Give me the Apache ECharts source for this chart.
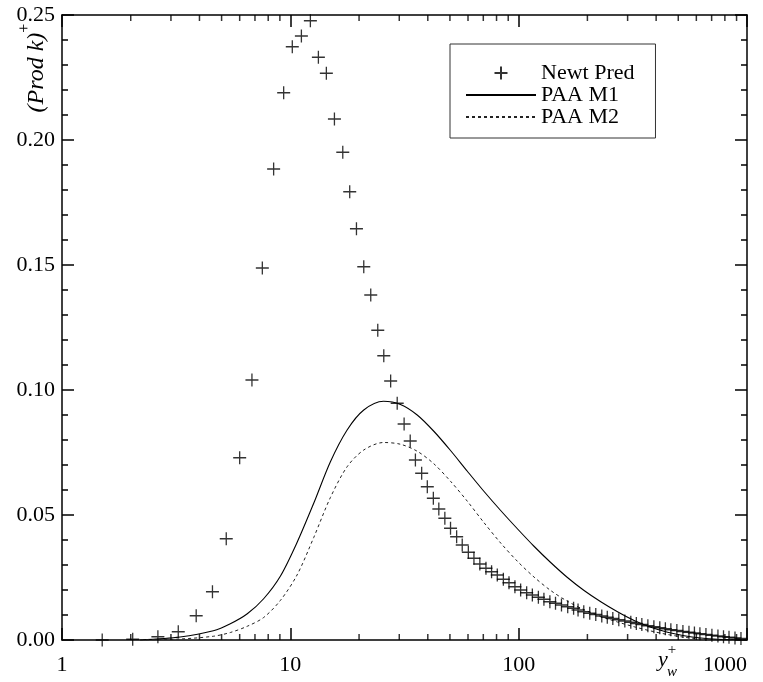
<!DOCTYPE html>
<html><head><meta charset="utf-8">
<script src="https://cdn.jsdelivr.net/npm/echarts/dist/echarts.min.js"></script>
<style>html,body{margin:0;padding:0;background:#fff}#c{width:763px;height:682px}</style>
</head><body><div id="c"></div>
<script>
// ---- data ----
const newtX = [1.50,2.04,2.63,3.23,3.87,4.56,5.24,6.00,6.79,7.54,8.45,9.35,10.2,11.18,12.24,13.27,14.38,15.6,16.97,18.2,19.48,20.97,22.5,24.15,25.66,27.5,29.38,31.5,33.5,35.3,37.6,39.8,42.3,44.7,47.5,50.3,53.5,56.6,60.2,63.7,67.6,71.9,76.1,80.6,85.7,90.7,96.3,102,108.4,114.8,122,129,137,145,154,164,174,182,192.8,204.8,217.6,231.2,244.4,258.4,274.5,291.7,309.8,327.6,346.3,368,391,415,439,464,493,524,557,588.5,622,661,702,746,789,834,886,941];
const newtY = [0.0000,0.0003,0.0013,0.0033,0.0097,0.0193,0.0405,0.0729,0.1040,0.1488,0.1884,0.2189,0.2373,0.2416,0.2477,0.2331,0.2267,0.2084,0.1951,0.1793,0.1645,0.1493,0.1380,0.1239,0.1137,0.1036,0.0947,0.0864,0.0796,0.0720,0.0667,0.0613,0.0567,0.0524,0.0487,0.0447,0.0413,0.0380,0.0351,0.0327,0.0304,0.0287,0.0273,0.0260,0.0243,0.0229,0.0213,0.0200,0.0189,0.0180,0.0171,0.0163,0.0153,0.0147,0.0140,0.0133,0.0127,0.0120,0.0113,0.0107,0.0102,0.0096,0.0091,0.0086,0.0081,0.0076,0.0071,0.0066,0.0062,0.0057,0.0053,0.0049,0.0045,0.0041,0.0038,0.0034,0.0031,0.0028,0.0025,0.0022,0.0019,0.0016,0.0013,0.0011,0.0008,0.0006];

const curveX = [2.20,3.29,4.60,5.46,6.48,7.64,9.04,10.70,12.66,14.98,17.73,20.97,25.58,30.37,35.95,42.5,50.3,59.6,70.4,83.4,98.7,116.7,138.1,163.5,193.4,228.9,270.9,320.4,379.3,448.9,530.9,628.3,743.7,879.7,1000];
const m1Y = [0.0000,0.0012,0.0037,0.0065,0.0105,0.0165,0.0255,0.0390,0.0547,0.0713,0.0840,0.0920,0.0955,0.0942,0.0900,0.0835,0.0758,0.0675,0.0595,0.0518,0.0445,0.0375,0.0310,0.0250,0.0198,0.0153,0.0113,0.0078,0.0051,0.0031,0.0017,0.0008,0.0003,0.0001,0.0000];
const m2Y = [0.0000,0.0004,0.0015,0.0030,0.0055,0.0090,0.0158,0.0260,0.0410,0.0570,0.0693,0.0760,0.0790,0.0783,0.0755,0.0705,0.0635,0.0555,0.0470,0.0388,0.0315,0.0252,0.0198,0.0155,0.0121,0.0094,0.0072,0.0053,0.0036,0.0022,0.0011,0.0004,0.0001,0.0000,0.0000];

const seriesNames = ['Newt Pred', 'PAA M1', 'PAA M2'];
const xMinorTicks = [2,3,4,5,6,7,8,9,20,30,40,50,60,70,80,90,200,300,400,500,600,700,800,900];
const yMin = 0, yMax = 0.25, yStep = 0.05;

// ---- chart ----
const FONT = '"Liberation Serif", "DejaVu Serif", serif';
const AX = {color: '#000', width: 1.5};
const chart = echarts.init(document.getElementById('c'), null, {renderer: 'canvas'});

function xAxisCfg(pos, labels) {
  return {
    type: 'log', logBase: 10, min: 1, max: 1000, position: pos, gridIndex: 0,
    axisLine: {show: true, onZero: false, lineStyle: AX},
    axisTick: {show: true, inside: true, length: 12, lineStyle: AX},
    axisLabel: labels ? {
      show: true, fontFamily: FONT, fontSize: 22, color: '#000', margin: 14,
      alignMaxLabel: 'right',
      formatter: v => String(v)
    } : {show: false},
    splitLine: {show: false}, minorTick: {show: false}
  };
}
function yAxisCfg(pos, labels) {
  return {
    type: 'value', min: yMin, max: yMax, interval: yStep, position: pos,
    axisLine: {show: true, onZero: false, lineStyle: AX},
    axisTick: {show: true, inside: true, length: 12, lineStyle: AX},
    minorTick: {show: true, splitNumber: 5, length: 6, lineStyle: AX},
    axisLabel: labels ? {show: true, fontFamily: FONT, fontSize: 22, color: '#000', margin: 7,
      formatter: v => v.toFixed(2)} : {show: false},
    splitLine: {show: false}, minorSplitLine: {show: false}
  };
}

// minor x ticks: small bars placed by the log scale on bottom and top edges
function minorTickSeries(name, yVal, dir) {
  return {
    name: name, type: 'scatter', xAxisIndex: 0, yAxisIndex: 0,
    silent: true, clip: false, z: 20,
    data: xMinorTicks.map(v => [v, yVal]),
    symbol: 'rect', symbolSize: [1.5, 6], symbolOffset: [0, dir * 3],
    itemStyle: {color: '#000'}
  };
}

const plusPath = 'path://M0,-10L0,10M-10,0L10,0';

chart.setOption({
  animation: false,
  grid: {left: 62, right: 16, top: 15, bottom: 42},
  xAxis: [xAxisCfg('bottom', true), xAxisCfg('top', false)],
  yAxis: [yAxisCfg('left', true), yAxisCfg('right', false)],
  legend: {
    orient: 'vertical', left: 450, top: 44,
    data: [
      {name: seriesNames[0]},
      {name: seriesNames[1], itemStyle: {opacity: 0}},
      {name: seriesNames[2], itemStyle: {opacity: 0}}
    ],
    itemWidth: 70, itemHeight: 13, itemGap: 0,
    padding: [18, 21, 10, 15],
    borderColor: '#333', borderWidth: 1, backgroundColor: '#fff',
    textStyle: {fontFamily: FONT, fontSize: 22, color: '#000', lineHeight: 20},
    selectedMode: false
  },
  series: [
    {
      name: seriesNames[0], type: 'scatter', xAxisIndex: 0, yAxisIndex: 0,
      data: newtX.map((x, i) => [x, newtY[i]]),
      symbol: plusPath, symbolSize: 13,
      itemStyle: {color: '#000', borderColor: '#000', borderWidth: 1.3},
      z: 5
    },
    {
      name: seriesNames[1], type: 'line', xAxisIndex: 0, yAxisIndex: 0,
      data: curveX.map((x, i) => [x, m1Y[i]]),
      smooth: 0.3, symbol: 'none', showSymbol: false,
      lineStyle: {color: '#000', width: 1.1, type: 'solid'},
      itemStyle: {color: '#000'}
    },
    {
      name: seriesNames[2], type: 'line', xAxisIndex: 0, yAxisIndex: 0,
      data: curveX.map((x, i) => [x, m2Y[i]]),
      smooth: 0.3, symbol: 'none', showSymbol: false,
      lineStyle: {color: '#222', width: 1, type: [3, 3]},
      itemStyle: {color: '#222'}
    },
    minorTickSeries('xMinorBottom', yMin, -1),
    minorTickSeries('xMinorTop', yMax, 1)
  ],
  graphic: [
    {
      type: 'text', x: 33, y: 68, rotation: Math.PI / 2,
      style: {
        text: '{i|(Prod k)}{s|+}',
        align: 'center', verticalAlign: 'middle',
        rich: {
          i: {fontFamily: FONT, fontStyle: 'italic', fontSize: 24, fill: '#000', lineHeight: 32, verticalAlign: 'bottom'},
          s: {fontFamily: FONT, fontSize: 16, fill: '#000', lineHeight: 32, verticalAlign: 'top'}
        }
      }
    },
    {type: 'text', x: 663, y: 660, style: {text: 'y', fontFamily: FONT, fontStyle: 'italic', fontSize: 22, fill: '#000', align: 'center', verticalAlign: 'middle'}},
    {type: 'text', x: 672, y: 650, style: {text: '+', fontFamily: FONT, fontSize: 15, fill: '#000', align: 'center', verticalAlign: 'middle'}},
    {type: 'text', x: 672, y: 672, style: {text: 'w', fontFamily: FONT, fontStyle: 'italic', fontSize: 15, fill: '#000', align: 'center', verticalAlign: 'middle'}}
  ]
});
</script>
</body></html>
